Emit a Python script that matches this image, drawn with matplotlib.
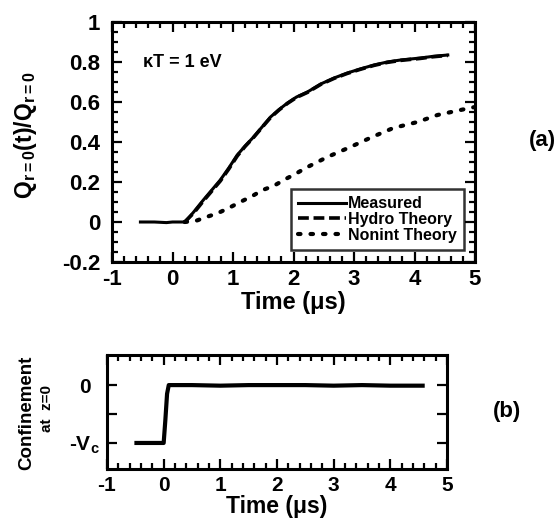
import numpy as np
import matplotlib
matplotlib.use('Agg')
import matplotlib.pyplot as plt
from matplotlib.ticker import MultipleLocator

plt.rcParams['font.family'] = ['Liberation Sans', 'DejaVu Sans']
plt.rcParams['font.weight'] = 'bold'
plt.rcParams['axes.labelweight'] = 'bold'
plt.rcParams['mathtext.fontset'] = 'custom'
plt.rcParams['mathtext.rm'] = 'Liberation Sans:bold'
plt.rcParams['mathtext.it'] = 'Liberation Sans:bold'
plt.rcParams['mathtext.bf'] = 'Liberation Sans:bold'

# (a) Q_r=0(t)/Q_r=0
meas_t = [-0.53, -0.3, -0.1, 0.0, 0.1, 0.21, 0.35, 0.51, 0.65, 0.79, 0.93, 1.07, 1.2, 1.34,
          1.48, 1.62, 1.76, 1.9, 2.05, 2.23, 2.45, 2.67, 2.89, 3.1, 3.33, 3.55, 3.77, 4.1, 4.3, 4.55]
meas_q = [0.0, 0.0, -0.003, 0.0, 0.0, 0.0, 0.05, 0.11, 0.16, 0.21, 0.27, 0.335, 0.38, 0.425,
          0.475, 0.525, 0.562, 0.595, 0.625, 0.65, 0.69, 0.72, 0.745, 0.765, 0.785, 0.8, 0.81, 0.82, 0.828, 0.835]
hydro_t = [0.2, 0.35, 0.51, 0.65, 0.79, 0.93, 1.07, 1.2, 1.34, 1.48, 1.62, 1.76, 1.9, 2.05, 2.23,
           2.45, 2.67, 2.89, 3.1, 3.33, 3.55, 3.77, 4.1, 4.3, 4.55]
hydro_q = [0.0, 0.045, 0.105, 0.155, 0.205, 0.265, 0.33, 0.378, 0.423, 0.473, 0.522, 0.56, 0.593,
           0.623, 0.648, 0.688, 0.718, 0.743, 0.763, 0.783, 0.798, 0.808, 0.818, 0.826, 0.833]
nonint_t = [0.2, 0.38, 0.58, 0.74, 0.93, 1.12, 1.32, 1.49, 1.67, 1.87, 2.03, 2.2, 2.56, 2.94,
            3.3, 3.65, 4.05, 4.38, 4.76, 5.0]
nonint_q = [0.0, 0.005, 0.027, 0.043, 0.07, 0.1, 0.13, 0.16, 0.18, 0.215, 0.24, 0.27, 0.325,
            0.375, 0.425, 0.47, 0.5, 0.535, 0.56, 0.575]

# (b) confinement voltage at z=0
conf_t = [-0.48, -0.2, 0.0, 0.03, 0.06, 0.09, 0.5, 1.0, 1.5, 2.0, 2.5, 3.0, 3.5, 4.0, 4.57]
conf_v = [-1.0, -1.0, -1.0, -0.6, -0.15, 0.0, 0.0, -0.01, 0.0, 0.0, 0.0, -0.01, 0.0, -0.01, -0.01]

x_ticks = [-1, 0, 1, 2, 3, 4, 5]
x_labels = ['-1', '0', '1', '2', '3', '4', '5']
ya_ticks = [-0.2, 0, 0.2, 0.4, 0.6, 0.8, 1.0]
ya_labels = ['-0.2', '0', '0.2', '0.4', '0.6', '0.8', '1']
yb_ticks = [-1, -0.5, 0]
yb_labels = [r'-V$_c$', '', '0']

W, H = 559, 523
fig = plt.figure(figsize=(W / 100, H / 100), dpi=100)

def style_axes(ax, xsize, ysize, ypad):
    for sp in ax.spines.values():
        sp.set_linewidth(2.2)
    ax.tick_params(which='both', direction='in', top=True, right=True, width=1.6)
    ax.tick_params(which='major', length=7)
    ax.tick_params(which='minor', length=4)
    ax.tick_params(axis='x', labelsize=xsize, pad=5)
    ax.tick_params(axis='y', labelsize=ysize, pad=ypad)

ax1 = fig.add_axes([112 / W, 1 - 262 / H, 363 / W, 240 / H])
ax1.plot(meas_t, meas_q, color='black', lw=2.2, label='Measured')
ax1.plot(hydro_t, hydro_q, color='black', lw=2.6, linestyle=(0, (3, 1.3)), label='Hydro Theory')
ax1.plot(nonint_t, nonint_q, color='black', lw=3, linestyle=(0, (0.6, 2.4)),
         dash_capstyle='round', label='Nonint Theory')
ax1.set_xlim(-1, 5)
ax1.set_ylim(-0.2, 1.0)
ax1.set_xticks(x_ticks)
ax1.set_xticklabels(x_labels)
ax1.set_yticks(ya_ticks)
ax1.set_yticklabels(ya_labels)
ax1.xaxis.set_minor_locator(MultipleLocator(0.2))
ax1.yaxis.set_minor_locator(MultipleLocator(0.05))
style_axes(ax1, 16, 16, 8.5)
ax1.set_xlabel('Time (μs)', fontsize=17, labelpad=1)
ax1.set_ylabel(r'Q$_{r{=}0}$(t)/Q$_{r{=}0}$', fontsize=16.5, va='center')
ax1.yaxis.set_label_coords(-0.237, 0.53)
ax1.text(0.085, 0.8125, 'κT = 1 eV', transform=ax1.transAxes, fontsize=13, va='baseline')
leg = ax1.legend(loc='lower right', bbox_to_anchor=(0.97, 0.05), fontsize=11.5, frameon=True,
                 fancybox=False, edgecolor='black', handlelength=3.0, handletextpad=0.15,
                 labelspacing=0.05, borderpad=0.45, borderaxespad=0)
leg.get_frame().set_linewidth(1.8)
fig.text(542 / W, 1 - 140 / H, '(a)', fontsize=16, ha='center', va='center')

ax2 = fig.add_axes([107 / W, 1 - 469 / H, 340 / W, 114 / H])
ax2.plot(conf_t, conf_v, color='black', lw=3)
ax2.set_xlim(-1, 5)
ax2.set_ylim(-1.45, 0.52)
ax2.set_xticks(x_ticks)
ax2.set_xticklabels(x_labels)
ax2.set_yticks(yb_ticks)
ax2.set_yticklabels(yb_labels)
ax2.xaxis.set_minor_locator(MultipleLocator(0.2))
style_axes(ax2, 15, 15, 16)
for lab in ax2.get_yticklabels():
    lab.set_horizontalalignment('center')
ax2.set_xlabel('Time (μs)', fontsize=16.5, labelpad=0)
fig.text(27 / W, 1 - 413 / H, 'Confinement', fontsize=13.5, rotation=90, ha='center', va='center')
fig.text(47 / W, 1 - 409 / H, 'at  z=0', fontsize=11, rotation=90, ha='center', va='center')
fig.text(507 / W, 1 - 412 / H, '(b)', fontsize=16, ha='center', va='center')

plt.savefig('out.png', dpi=100)
plt.close('all')
